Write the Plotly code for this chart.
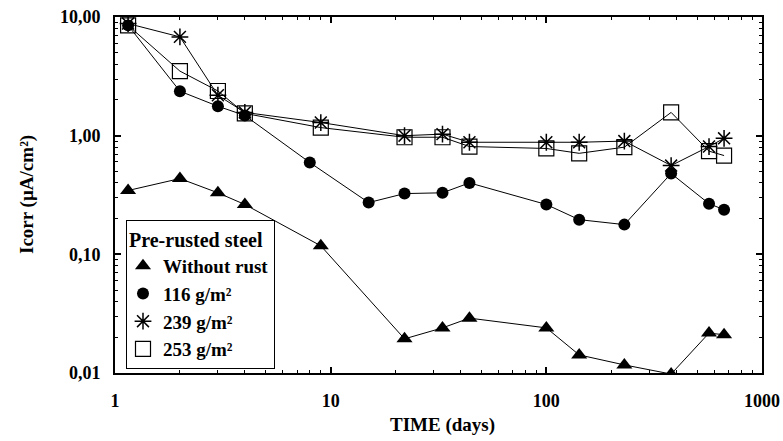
import plotly.graph_objects as go

# ---- data ----
t_tri = [1.15, 2, 3, 4, 9, 22, 33, 44, 100, 142, 230, 379, 568, 667]
i_tri = [0.345, 0.435, 0.33, 0.263, 0.118, 0.0194, 0.024, 0.029, 0.024, 0.0142, 0.0117, 0.0098, 0.0217, 0.021]

t_116 = [1.15, 2, 3, 4, 8, 15, 22, 33, 44, 100, 142, 230, 379, 568, 667]
i_116 = [8.5, 2.37, 1.77, 1.48, 0.594, 0.273, 0.325, 0.33, 0.40, 0.263, 0.196, 0.178, 0.48, 0.267, 0.238]

t_239 = [1.15, 2, 3, 4, 9, 22, 33, 44, 100, 142, 230, 379, 568, 667]
i_239 = [8.8, 6.8, 2.19, 1.57, 1.29, 1.0, 1.03, 0.88, 0.88, 0.88, 0.9, 0.56, 0.81, 0.95]

t_253 = [1.15, 2, 3, 4, 9, 22, 33, 44, 100, 142, 230, 379, 568, 667]
i_253 = [8.5, 3.5, 2.38, 1.54, 1.17, 0.97, 0.97, 0.81, 0.78, 0.71, 0.80, 1.57, 0.74, 0.68]

series_names = ["Without rust", "116 g/m²", "239 g/m²", "253 g/m²"]
y_tickvals = [0.01, 0.1, 1, 10]
y_ticktext = ["0,01", "0,10", "1,00", "10,00"]
x_tickvals = [1, 10, 100, 1000]
x_ticktext = ["1", "10", "100", "1000"]
x_title = "TIME (days)"
y_title = "Icorr (µA/cm²)"

FONT = "Liberation Serif"

fig = go.Figure()

styles = [
    dict(symbol="triangle-up", size=14, color="black"),
    dict(symbol="circle", size=12, color="black"),
    dict(symbol="asterisk-open", size=14, color="black", line=dict(width=1.5, color="black")),
    dict(symbol="square-open", size=15, color="black", line=dict(width=1.2, color="black")),
]
data = [(t_tri, i_tri), (t_116, i_116), (t_239, i_239), (t_253, i_253)]

for (tx, iy), st, nm in zip(data, styles, series_names):
    fig.add_trace(go.Scatter(
        x=tx, y=iy, mode="lines+markers",
        line=dict(color="black", width=1),
        marker=st, showlegend=False, name=nm,
    ))

# legend-only entries (markers without line)
for st, nm in zip(styles, series_names):
    fig.add_trace(go.Scatter(
        x=[None], y=[None], mode="markers", marker=st, name=nm, showlegend=True,
    ))

axis_common = dict(
    type="log", showgrid=False, zeroline=False, automargin=False,
    showline=True, linecolor="black", linewidth=2, mirror="allticks",
    ticks="inside", ticklen=6, tickwidth=1.5, tickcolor="black",
    tickfont=dict(family=FONT, size=18, color="black", weight="bold"),
)

fig.update_xaxes(
    **axis_common,
    range=[0, 3],
    tickvals=x_tickvals, ticktext=x_ticktext,
    ticklabelstandoff=10,
    minor=dict(ticks="inside", ticklen=3, tickcolor="black", tickwidth=1,
               tickvals=[m * d for d in (1, 10, 100) for m in range(2, 10)]),
)
fig.update_yaxes(
    **axis_common,
    range=[-2, 1],
    tickvals=y_tickvals, ticktext=y_ticktext,
    ticklabelstandoff=9,
    minor=dict(ticks="inside", ticklen=3, tickcolor="black", tickwidth=1,
               tickvals=[m * d for d in (0.01, 0.1, 1) for m in range(2, 10)]),
)

title_font = dict(family=FONT, size=19, color="black", weight="bold")
fig.add_annotation(text=x_title, xref="paper", yref="paper", x=0.506, y=-0.146,
                   xanchor="center", yanchor="middle", showarrow=False, font=title_font)
fig.add_annotation(text=y_title, xref="paper", yref="paper", x=-0.136, y=0.5,
                   xanchor="center", yanchor="middle", textangle=-90, showarrow=False, font=title_font)

fig.update_layout(
    width=783, height=441,
    margin=dict(l=115, r=21, t=17, b=68),
    paper_bgcolor="white", plot_bgcolor="white",
    font=dict(family=FONT, color="black"),
    legend=dict(
        x=0.017, y=0.43, xanchor="left", yanchor="top",
        bgcolor="white", bordercolor="black", borderwidth=1,
        font=dict(family=FONT, size=19, color="black", weight="bold"),
        title=dict(text="Pre-rusted steel", font=dict(family=FONT, size=20, color="black", weight="bold")),
        itemwidth=30, tracegroupgap=0, indentation=-4,
    ),
)

fig.write_html("out.html")
